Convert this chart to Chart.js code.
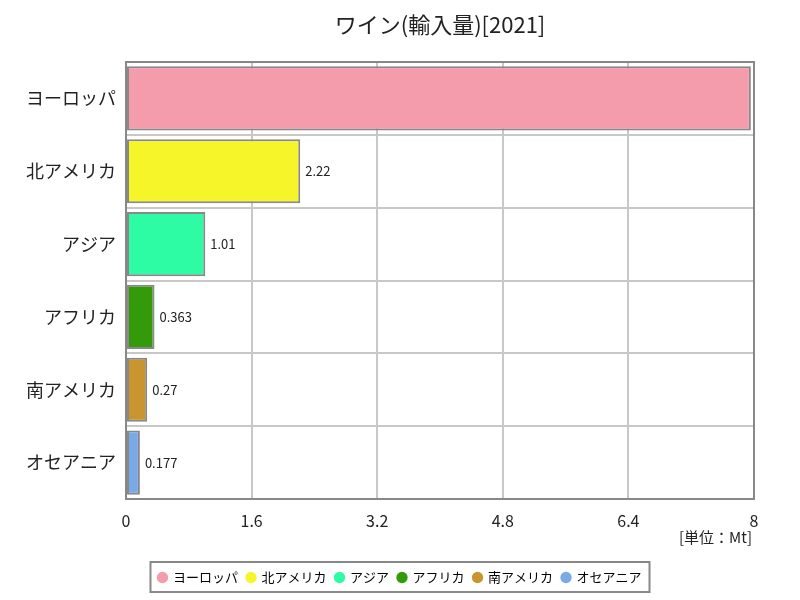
<!DOCTYPE html>
<html>
<head>
<meta charset="utf-8">
<script src="https://cdn.jsdelivr.net/npm/chart.js@4"></script>
<style>
  html, body { margin: 0; padding: 0; background: #fff; }
  #wrap { width: 800px; height: 600px; }
</style>
</head>
<body>
<div id="wrap"><canvas id="chart" width="800" height="600"></canvas></div>
<script>
// data
const regions = ["ヨーロッパ", "北アメリカ", "アジア", "アフリカ", "南アメリカ", "オセアニア"];
const imports = [7.96, 2.22, 1.01, 0.363, 0.27, 0.177];
const barColors = ["#f49cac", "#f5f52a", "#2dfca4", "#339a0a", "#c8952f", "#7aa9e8"];
const xTicks = [0, 1.6, 3.2, 4.8, 6.4, 8];

const FONT = "'Noto Sans CJK JP', 'DejaVu Sans', sans-serif";

const extras = {
  id: "extras",
  afterDraw(chart) {
    const { ctx, chartArea: a } = chart;
    ctx.save();
    // title
    ctx.fillStyle = "#222";
    ctx.font = "22px " + FONT;
    ctx.textAlign = "center";
    ctx.textBaseline = "middle";
    ctx.fillText("ワイン(輸入量)[2021]", (a.left + a.right) / 2, 25);
    // plot border
    ctx.strokeStyle = "#888";
    ctx.lineWidth = 2;
    ctx.strokeRect(a.left, a.top, a.right - a.left, a.bottom - a.top);
    // value labels
    const meta = chart.getDatasetMeta(0);
    ctx.font = "13px " + FONT;
    ctx.fillStyle = "#222";
    ctx.textAlign = "left";
    meta.data.forEach((bar, i) => {
      const x = bar.x + 5;
      const txt = String(imports[i]);
      if (x + ctx.measureText(txt).width > a.right) return;
      ctx.fillText(txt, x, bar.y);
    });
    // unit
    ctx.font = "15px " + FONT;
    ctx.textAlign = "right";
    ctx.fillText("[単位：Mt]", a.right - 2, 537);
    // legend box
    const boxes = chart.legend.legendHitBoxes;
    if (boxes.length) {
      const l = Math.min(...boxes.map(b => b.left)) - 8;
      const r = Math.max(...boxes.map(b => b.left + b.width)) + 8;
      const t = boxes[0].top - 9;
      const bt = boxes[0].top + boxes[0].height + 8;
      ctx.strokeStyle = "#888";
      ctx.lineWidth = 2;
      ctx.strokeRect(l, t, r - l, bt - t);
    }
    ctx.restore();
  }
};

new Chart(document.getElementById("chart"), {
  type: "bar",
  data: {
    labels: regions,
    datasets: [{
      data: imports,
      backgroundColor: barColors,
      borderColor: "#888",
      borderWidth: 2,
      borderSkipped: false,
      barPercentage: 0.88,
      categoryPercentage: 1
    }]
  },
  options: {
    indexAxis: "y",
    responsive: false,
    animation: false,
    layout: { padding: { top: 62, left: 0, right: 0, bottom: 6 } },
    scales: {
      x: {
        min: 0, max: 8,
        afterBuildTicks: s => { s.ticks = xTicks.map(v => ({ value: v })); },
        afterFit: s => { s.height = 63; },
        grid: { color: "#c8c8c8", lineWidth: 2, drawTicks: false },
        border: { display: false },
        ticks: {
          padding: 12,
          color: "#222",
          font: { family: FONT, size: 16 },
          callback: v => String(v)
        }
      },
      y: {
        afterFit: s => { s.width = 126; },
        grid: { color: "#c8c8c8", lineWidth: 2, drawTicks: false, offset: true },
        border: { display: false },
        ticks: {
          padding: 10,
          color: "#222",
          font: { family: FONT, size: 18 }
        }
      },
      yr: {
        type: "linear",
        axis: "y",
        position: "right",
        display: true,
        afterFit: s => { s.width = 46; },
        grid: { display: false },
        border: { display: false },
        ticks: { display: false }
      }
    },
    plugins: {
      legend: {
        position: "bottom",
        labels: {
          usePointStyle: true,
          pointStyle: "circle",
          boxWidth: 8,
          boxHeight: 8,
          padding: 9,
          color: "#222",
          font: { family: FONT, size: 13 },
          generateLabels: chart => regions.map((r, i) => ({
            text: r,
            fillStyle: barColors[i],
            strokeStyle: barColors[i],
            lineWidth: 0,
            pointStyle: "circle",
            hidden: false,
            index: i
          }))
        }
      },
      title: { display: false },
      tooltip: { enabled: false }
    }
  },
  plugins: [extras]
});
</script>
</body>
</html>
